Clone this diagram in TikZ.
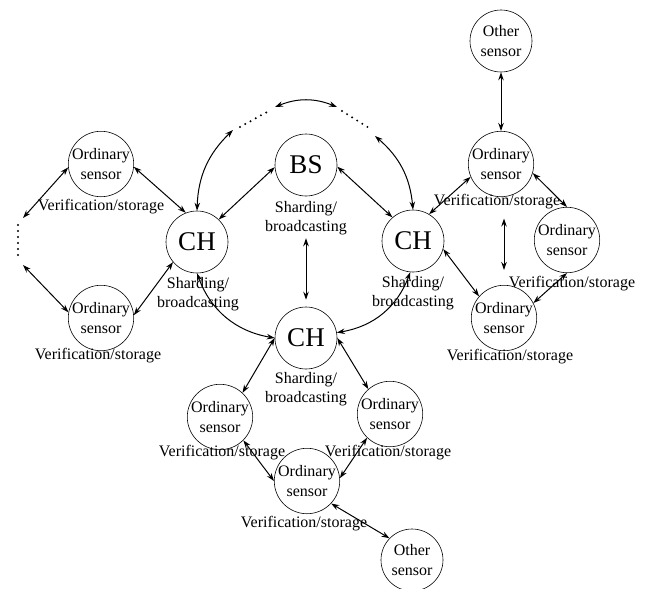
\documentclass[tikz,border=0pt]{standalone}
\usepackage{fontspec}
\setmainfont{Liberation Serif}
\usetikzlibrary{arrows.meta}

\begin{document}
\begin{tikzpicture}[x=1pt,y=-1pt]

	% Stile
	\tikzset{
		every node/.style={font=\fontsize{16pt}{19.5pt}\selectfont},
		sensor/.style={circle, draw, line width=0.6pt, minimum size=62pt, inner sep=0pt, align=center},
		head/.style={sensor, font=\fontsize{27pt}{30pt}\selectfont},
		lbl/.style={align=center, inner sep=1pt},
		link/.style={{Stealth[length=8pt,width=5.5pt]}-{Stealth[length=8pt,width=5.5pt]}, line width=1pt},
		dots/.style={line width=2.2pt, line cap=round, dash pattern=on 0pt off 6pt}
	}
	\useasboundingbox (0,0) rectangle (648,589);

	% Clusterkoepfe und Basisstation
	\node[head] (chl) at (197,242) {CH};
	\node[head] (bs) at (306,165) {BS};
	\node[head] (chr) at (413,241) {CH};
	\node[head] (chb) at (306,338) {CH};

	\node[lbl] (chllbl) at (198,294) {Sharding/\\broadcasting};
	\node[lbl] (bslbl) at (306,218) {Sharding/\\broadcasting};
	\node[lbl] (chrlbl) at (413,293) {Sharding/\\broadcasting};
	\node[lbl] (chblbl) at (306,389) {Sharding/\\broadcasting};

	% linker Cluster
	\node[sensor] (ol1) at (101,164) {Ordinary\\sensor};
	\node[sensor] (ol2) at (101,318) {Ordinary\\sensor};
	\node[lbl] (ol1lbl) at (101,207) {Verification/storage};
	\node[lbl] (ol2lbl) at (98,356) {Verification/storage};

	% rechter Cluster
	\node[sensor] (os1) at (501,41) {Other\\sensor};
	\node[sensor] (or1) at (501,164) {Ordinary\\sensor};
	\node[sensor] (or2) at (567,240) {Ordinary\\sensor};
	\node[sensor] (or3) at (504,318) {Ordinary\\sensor};
	\node[lbl] (or1lbl) at (497,202) {Verification/storage};
	\node[lbl] (or2lbl) at (572,284) {Verification/storage};
	\node[lbl] (or3lbl) at (510,357) {Verification/storage};

	% unterer Cluster
	\node[sensor] (ob1) at (220,417) {Ordinary\\sensor};
	\node[sensor] (ob2) at (390,414) {Ordinary\\sensor};
	\node[sensor] (ob3) at (307,481) {Ordinary\\sensor};
	\node[sensor] (os2) at (412,560) {Other\\sensor};
	\node[lbl] (ob1lbl) at (222,453) {Verification/storage};
	\node[lbl] (ob2lbl) at (388,453) {Verification/storage};
	\node[lbl] (ob3lbl) at (304,524) {Verification/storage};

	% Punkte (weitere Knoten)
	\draw[dots] (18,225) -- (18,256);
	\draw[dots] (240,127) -- (267,112);
	\draw[dots] (342,111) -- (369,128);
	\coordinate (dl1) at (23,218);
	\coordinate (dl2) at (23,265);
	\coordinate (dt1) at (233,130);
	\coordinate (dt2) at (275,107);
	\coordinate (dt3) at (337,107);
	\coordinate (dt4) at (375,136);

	% Verbindungen links
	\draw[link] (ol1.186) -- (dl1);
	\draw[link] (ol2.170) -- (dl2);
	\draw[link] (ol1.-5) -- (chl.111);
	\draw[link] (ol2.5) -- (chl.220);

	% Verbindungen zwischen den Koepfen
	\draw[link] (chl.46) -- (bs.184);
	\draw[link] (bs.-3) -- (chr.131);
	\draw[link] (chl.270) to[bend right=30] (chb.180);
	\draw[link] (chr.265) to[bend left=30] (chb.10);
	\draw[link] (chl.90) to[bend left=22] (dt1);
	\draw[link] (dt2) to[bend left=22] (dt3);
	\draw[link] (dt4) to[bend left=22] (chr.90);
	\draw[link, shorten <=2pt, shorten >=7pt] (bslbl.south) -- (chb.north);

	% Verbindungen rechts
	\draw[link] (os1.south) -- (or1.north);
	\draw[link] (chr.59) -- (or1.203);
	\draw[link] (chr.-15) -- (or3.139);
	\draw[link] (or1.-16) -- (or2.90);
	\draw[link] (or2.270) -- (or3.27);
	\draw[link, shorten <=8pt, shorten >=15pt] (or1lbl.south -| or3.north) -- (or3.north);

	% Verbindungen unten
	\draw[link] (chb.180) -- (ob1.47);
	\draw[link] (chb.0) -- (ob2.131);
	\draw[link] (ob1.-45) -- (ob3.180);
	\draw[link] (ob2.226) -- (ob3.5);
	\draw[link] (ob3.-43) -- (os2.136);

\end{tikzpicture}
\end{document}
